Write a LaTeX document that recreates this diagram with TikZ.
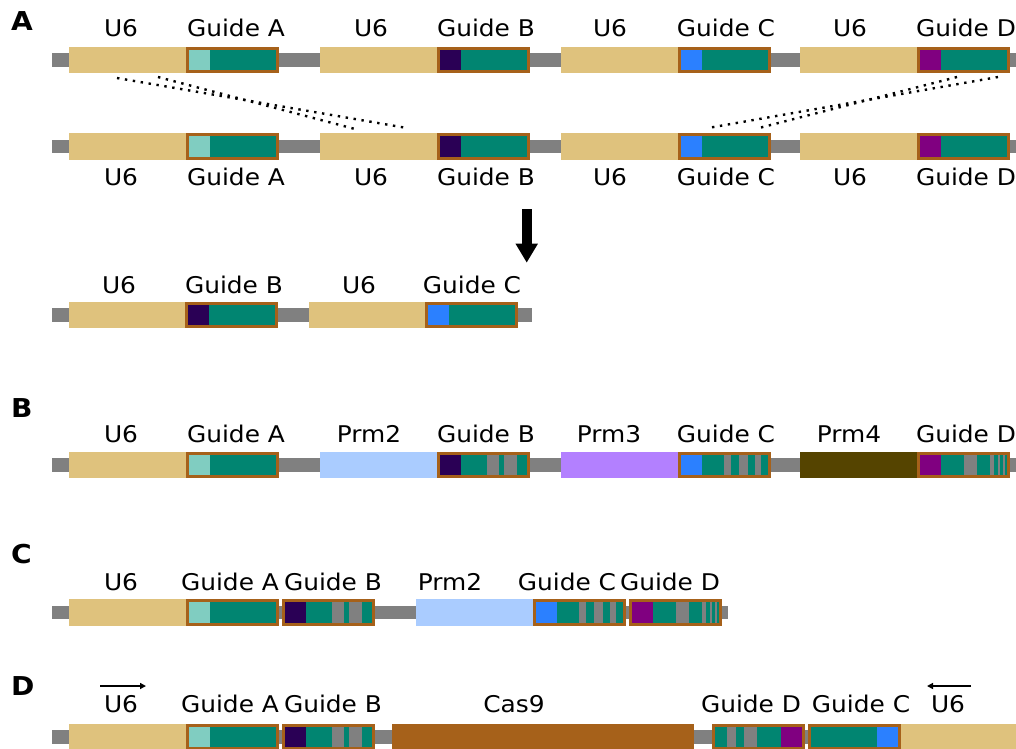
\documentclass[tikz,border=0pt]{standalone}
\usepackage{fontspec}
\setmainfont{DejaVu Sans}[FakeStretch=1.08]
\usetikzlibrary{arrows.meta}

% BrBG-style palette for the constructs
\definecolor{promtan}{HTML}{DFC27D}
\definecolor{backbone}{HTML}{808080}
\definecolor{guideedge}{HTML}{A6611A}
\definecolor{scaffold}{HTML}{018571}
\definecolor{spA}{HTML}{80CDC1}
\definecolor{spB}{HTML}{2A0055}
\definecolor{spC}{HTML}{2B80FF}
\definecolor{spD}{HTML}{800080}
\definecolor{prmtwo}{HTML}{AACCFF}
\definecolor{prmthree}{HTML}{B380FF}
\definecolor{prmfour}{HTML}{554400}
\definecolor{casnine}{HTML}{A6611A}

% spacer / stripe layouts inside a guide box (colour/from/to, relative to box start)
\def\gAplain{spA/2.5/24}
\def\gBplain{spB/2.5/24}
\def\gCplain{spC/2.5/24}
\def\gDplain{spD/2.5/24}
\def\gBstripe{spB/2.5/24,backbone/50/62,backbone/67/79.5}
\def\gCstripe{spC/2.5/24,backbone/46/52.5,backbone/60.5/70,backbone/77/83}
\def\gDstripe{spD/2.5/24,backbone/47/60,backbone/73/77,backbone/80.5/83,backbone/85.5/88}
\def\gDrev{backbone/15/24,backbone/32/45,spD/69/90.5}
\def\gCrev{spC/69/90.5}

% backbone line: from x1 to x2 at row y
\newcommand{\bbline}[3]{\fill[backbone] (#1,#3-6.7) rectangle (#2,#3+6.7);}
% promoter / gene block: name, x, y, colour, width
\newcommand{\prom}[5]{\node[block, fill=#4, minimum width=#5] (#1) at (#2,#3) {};}
% guide box: name, x, y, stripe layout
\newcommand{\guide}[4]{%
  \fill[scaffold] (#2+2.5,#3-10.3) rectangle (#2+90.5,#3+10.3);
  \edef\gpartlist{#4}%
  \foreach \gcol/\ga/\gb in \gpartlist {\fill[\gcol] (#2+\ga,#3-10.3) rectangle (#2+\gb,#3+10.3);}
  \node[gbox] (#1) at (#2,#3) {};}

\begin{document}
\begin{tikzpicture}[x=1pt,y=-1pt,
  block/.style={inner sep=0, outer sep=0, minimum height=26.6, anchor=west, draw=none},
  gbox/.style={draw=guideedge, line width=3pt, inner sep=0, outer sep=1.5pt, minimum width=90, minimum height=23.6, anchor=west},
  lab/.style={font=\fontsize{23}{27}\selectfont, inner sep=0, anchor=base},
  letter/.style={font=\fontsize{26}{30}\selectfont\bfseries, inner sep=0, anchor=base west},
  cut/.style={line width=2.4pt, dash pattern=on 2.4pt off 5.6pt},
  dirarrow/.style={line width=1.6pt, -{Triangle[length=6pt,width=6pt]}}]
\useasboundingbox (0,0) rectangle (1016,748);
\clip (0,0) rectangle (1016,748);

% ---------------- A: array before and after cutting ----------------
\node[letter] (pA) at (11,30) {A};
\foreach \r/\yy in {1/60,2/146.7} {
  \bbline{52}{1016}{\yy}
  \prom{a\r p1}{69}{\yy}{promtan}{117}
  \guide{a\r ga}{186}{\yy}{\gAplain}
  \prom{a\r p2}{320}{\yy}{promtan}{117}
  \guide{a\r gb}{437}{\yy}{\gBplain}
  \prom{a\r p3}{561}{\yy}{promtan}{117}
  \guide{a\r gc}{678}{\yy}{\gCplain}
  \prom{a\r p4}{800}{\yy}{promtan}{117}
  \guide{a\r gd}{917}{\yy}{\gDplain}
}
\foreach \nm/\xx/\tx in {u1/121/U6,ga/236/Guide A,u2/371/U6,gb/486/Guide B,u3/610/U6,gc/726/Guide C,u4/850/U6,gd/966/Guide D} {
  \node[lab] (t1\nm) at (\xx,36.8) {\tx};
  \node[lab] (t2\nm) at (\xx,185) {\tx};
}

% cut sites
\coordinate (c1s) at (117,78);  \coordinate (c1e) at (407,128);
\coordinate (c2s) at (158,77);  \coordinate (c2e) at (355,129);
\coordinate (c3s) at (998,77);  \coordinate (c3e) at (708,128);
\coordinate (c4s) at (957,77);  \coordinate (c4e) at (759,128);
\draw[cut] (c1s) -- (c1e);
\draw[cut] (c2s) -- (c2e);
\draw[cut] (c3s) -- (c3e);
\draw[cut] (c4s) -- (c4e);

% result arrow
\coordinate (arrtop) at (526.7,209);
\coordinate (arrtip) at (526.7,262.7);
\draw[line width=10pt, -{Triangle[width=21pt,length=19pt]}] (arrtop) -- (arrtip);

% excised product
\bbline{52}{532}{315}
\prom{r3p1}{68.5}{315}{promtan}{116}
\guide{r3gb}{184.5}{315}{\gBplain}
\prom{r3p2}{309}{315}{promtan}{116}
\guide{r3gc}{425}{315}{\gCplain}
\node[lab] (t3u1) at (119,293.3) {U6};
\node[lab] (t3gb) at (234,293.3) {Guide B};
\node[lab] (t3u2) at (359,293.3) {U6};
\node[lab] (t3gc) at (472,293.3) {Guide C};

% ---------------- B: distinct promoters ----------------
\node[letter] (pB) at (11,417) {B};
\bbline{52}{1016}{465}
\prom{bp1}{69}{465}{promtan}{117}
\guide{bga}{186}{465}{\gAplain}
\prom{bp2}{320}{465}{prmtwo}{117}
\guide{bgb}{437}{465}{\gBstripe}
\prom{bp3}{561}{465}{prmthree}{117}
\guide{bgc}{678}{465}{\gCstripe}
\prom{bp4}{800}{465}{prmfour}{117}
\guide{bgd}{917}{465}{\gDstripe}
\foreach \nm/\xx/\tx in {u1/121/U6,ga/236/Guide A,p2/369/Prm2,gb/486/Guide B,p3/609/Prm3,gc/726/Guide C,p4/849/Prm4,gd/966/Guide D} {
  \node[lab] (tb\nm) at (\xx,442.7) {\tx};
}

% ---------------- C: paired guides ----------------
\node[letter] (pC) at (11,563) {C};
\bbline{52}{728}{612.7}
\prom{cp1}{69}{612.7}{promtan}{117}
\guide{cga}{186}{612.7}{\gAplain}
\guide{cgb}{282}{612.7}{\gBstripe}
\prom{cp2}{416}{612.7}{prmtwo}{117}
\guide{cgc}{533}{612.7}{\gCstripe}
\guide{cgd}{629}{612.7}{\gDstripe}
\foreach \nm/\xx/\tx in {u1/121/U6,ga/230/Guide A,gb/333/Guide B,p2/450/Prm2,gc/567/Guide C,gd/670/Guide D} {
  \node[lab] (tc\nm) at (\xx,590) {\tx};
}

% ---------------- D: divergent cassettes around Cas9 ----------------
\node[letter] (pD) at (11,695) {D};
\bbline{52}{1016}{737}
\prom{dp1}{69}{737}{promtan}{117}
\guide{dga}{186}{737}{\gAplain}
\guide{dgb}{282}{737}{\gBstripe}
\prom{dcas}{392}{737}{casnine}{302}
\guide{dgd}{712}{737}{\gDrev}
\guide{dgc}{808}{737}{\gCrev}
\prom{dp2}{901}{737}{promtan}{120}
\foreach \nm/\xx/\tx in {u1/121/U6,ga/230/Guide A,gb/333/Guide B,cas/514/Cas9,gd/751/Guide D,gc/861/Guide C,u2/948/U6} {
  \node[lab] (td\nm) at (\xx,712) {\tx};
}
\coordinate (dl1) at (100,686);  \coordinate (dl2) at (146,686);
\coordinate (dr1) at (971,686);  \coordinate (dr2) at (927,686);
\draw[dirarrow] (dl1) -- (dl2);
\draw[dirarrow] (dr1) -- (dr2);
\end{tikzpicture}
\end{document}
